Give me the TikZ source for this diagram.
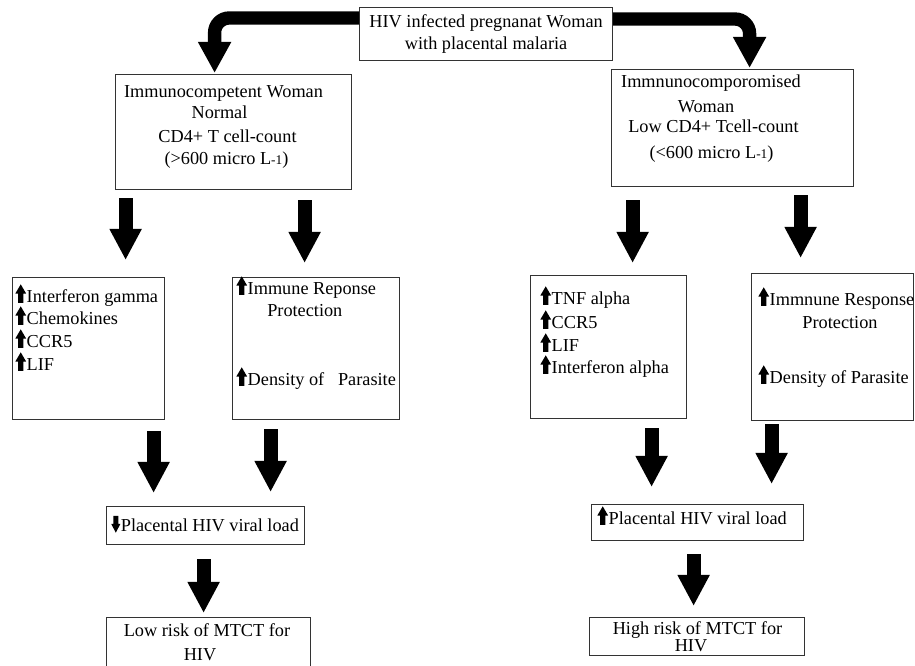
\documentclass[tikz,border=0pt]{standalone}
\usepackage{fontspec}
\setmainfont{Liberation Serif}
\usetikzlibrary{arrows.meta,calc}
\newcommand\uparr{\tikz[baseline=0pt]\fill[black] (-1.9pt,0pt) -- (1.9pt,0pt) -- (1.9pt,7pt) -- (4.1pt,7pt) -- (0pt,14pt) -- (-4.1pt,7pt) -- (-1.9pt,7pt) -- cycle;\kern0.4pt}
\newcommand\downarr{\tikz[baseline=0pt]\fill[black] (-1.9pt,12pt) -- (1.9pt,12pt) -- (1.9pt,6pt) -- (3.4pt,6pt) -- (0pt,-0.5pt) -- (-3.4pt,6pt) -- (-1.9pt,6pt) -- cycle;\kern0.4pt}
\newcommand\smallsub[1]{{\fontsize{10pt}{12pt}\selectfont #1}}
\begin{document}
\begin{tikzpicture}[x=0.75pt,y=-0.75pt,
  box/.style={draw=black!80, line width=0.9pt, inner sep=0pt, anchor=north west},
  txt/.style={inner sep=0pt, font=\fontsize{13.7pt}{16.4pt}\selectfont},
  big/.style={line width=10.5pt, -{Triangle[length=23.25pt, width=22.5pt]}},
  bent/.style={line width=10pt, rounded corners=11pt, -{Triangle[length=23.25pt, width=23.25pt]}}]
\useasboundingbox (0,0) rectangle (915,666);
\clip (0,0) rectangle (915,666);

% boxes
\node[box, txt, draw=black!80, minimum width=189.75pt, minimum height=39.75pt, align=center] (top) at (359,7) {HIV infected pregnanat Woman\\with placental malaria};
\node[box, minimum width=177pt, minimum height=86.25pt] (lt) at (115,74) {};
\node[box, minimum width=181.5pt, minimum height=87.75pt] (rt) at (611,69) {};
\node[box, minimum width=114pt, minimum height=106.5pt] (l1) at (12,277) {};
\node[box, minimum width=125.25pt, minimum height=106.5pt] (l2) at (232,277) {};
\node[box, minimum width=117pt, minimum height=107.25pt] (r1) at (530,275) {};
\node[box, minimum width=121.5pt, minimum height=110.25pt] (r2) at (751,273) {};
\node[box, minimum width=148.5pt, minimum height=28.5pt] (pl) at (106,506) {};
\node[box, minimum width=159pt, minimum height=27pt] (pr) at (591,504) {};
\node[box, minimum width=153pt, minimum height=52.5pt] (ll) at (106,617) {};
\node[box, minimum width=161.25pt, minimum height=28.5pt] (hr) at (589,617) {};

% texts left top
\node[txt, anchor=base] (lt1) at (223.5,98) {Immunocompetent Woman};
\node[txt, anchor=base] (lt2) at (219.5,119) {Normal};
\node[txt, anchor=base] (lt3) at (227.5,143) {CD4+ T cell-count};
\node[txt, anchor=base] (lt4) at (226.5,165) {(>600 micro L\smallsub{-1})};
% texts right top
\node[txt, anchor=base] (rt1) at (711,88) {Immnunocomporomised};
\node[txt, anchor=base] (rt2) at (706,113) {Woman};
\node[txt, anchor=base] (rt3) at (713.5,133) {Low CD4+ Tcell-count};
\node[txt, anchor=base] (rt4) at (711.5,159) {(<600 micro L\smallsub{-1})};
% l1
\node[txt, anchor=base west] (l1a) at (15,303) {\uparr Interferon gamma};
\node[txt, anchor=base west] (l1b) at (15,325) {\uparr Chemokines};
\node[txt, anchor=base west] (l1c) at (15,348) {\uparr CCR5};
\node[txt, anchor=base west] (l1d) at (15,371) {\uparr LIF};
% l2
\node[txt, anchor=base west] (l2a) at (236,295) {\uparr Immune Reponse};
\node[txt, anchor=base west] (l2b) at (267,317) {Protection};
\node[txt, anchor=base west] (l2c) at (236,386) {\uparr Density of\ \ \ Parasite};
% r1
\node[txt, anchor=base west] (r1a) at (540,305) {\uparr TNF alpha};
\node[txt, anchor=base west] (r1b) at (540,329) {\uparr CCR5};
\node[txt, anchor=base west] (r1c) at (540,352) {\uparr LIF};
\node[txt, anchor=base west] (r1d) at (540,374) {\uparr Interferon alpha};
% r2
\node[txt, anchor=base west] (r2a) at (758,306) {\uparr Immnune Response};
\node[txt, anchor=base] (r2b) at (840,329) {Protection};
\node[txt, anchor=base west] (r2c) at (758,384) {\uparr Density of Parasite};
% placental
\node[txt, anchor=base west] (pla) at (111,532) {\downarr Placental HIV viral load};
\node[txt, anchor=base west] (pra) at (597,525) {\uparr Placental HIV viral load};
% risk
\node[txt, anchor=base] (lla) at (207,637) {Low risk of MTCT for};
\node[txt, anchor=base] (llb) at (200,661) {HIV};
\node[txt, anchor=base] (hra) at (697.5,635) {High risk of MTCT for};
\node[txt, anchor=base] (hrb) at (691,652) {HIV};

% bent arrows from top
\draw[bent] ($(top.north west)+(0,11)$) -| ($(lt.north)+(-19,-1)$);
\draw[bent] ($(top.north east)+(0,12)$) -| ($(rt.north)+(17,-1)$);

% big arrows
\draw[big] ($(lt.south)+(-108,8)$) -- ($(l1.north)+(37,-17)$);
\draw[big] ($(lt.south)+(71,10)$) -- ($(l2.north)+(-11.5,-14)$);
\draw[big] ($(rt.south)+(-100,13)$) -- ($(r1.north)+(24,-12)$);
\draw[big] ($(rt.south)+(68,8)$) -- ($(r2.north)+(-32,-15)$);
\draw[big] ($(l1.south)+(65,11)$) -- ($(pl.north)+(-52,-13)$);
\draw[big] ($(l2.south)+(-45.5,9)$) -- ($(pl.north)+(65,-14)$);
\draw[big] ($(r1.south)+(43,9)$) -- ($(pr.north)+(-46,-17)$);
\draw[big] ($(r2.south)+(-61,3)$) -- ($(pr.north)+(74,-20)$);
\draw[big] ($(pl.south)+(-2,14)$) -- ($(ll.north)+(-5,-4)$);
\draw[big] ($(pr.south)+(-4,13)$) -- ($(hr.north)+(-3.5,-11)$);
\end{tikzpicture}
\end{document}
